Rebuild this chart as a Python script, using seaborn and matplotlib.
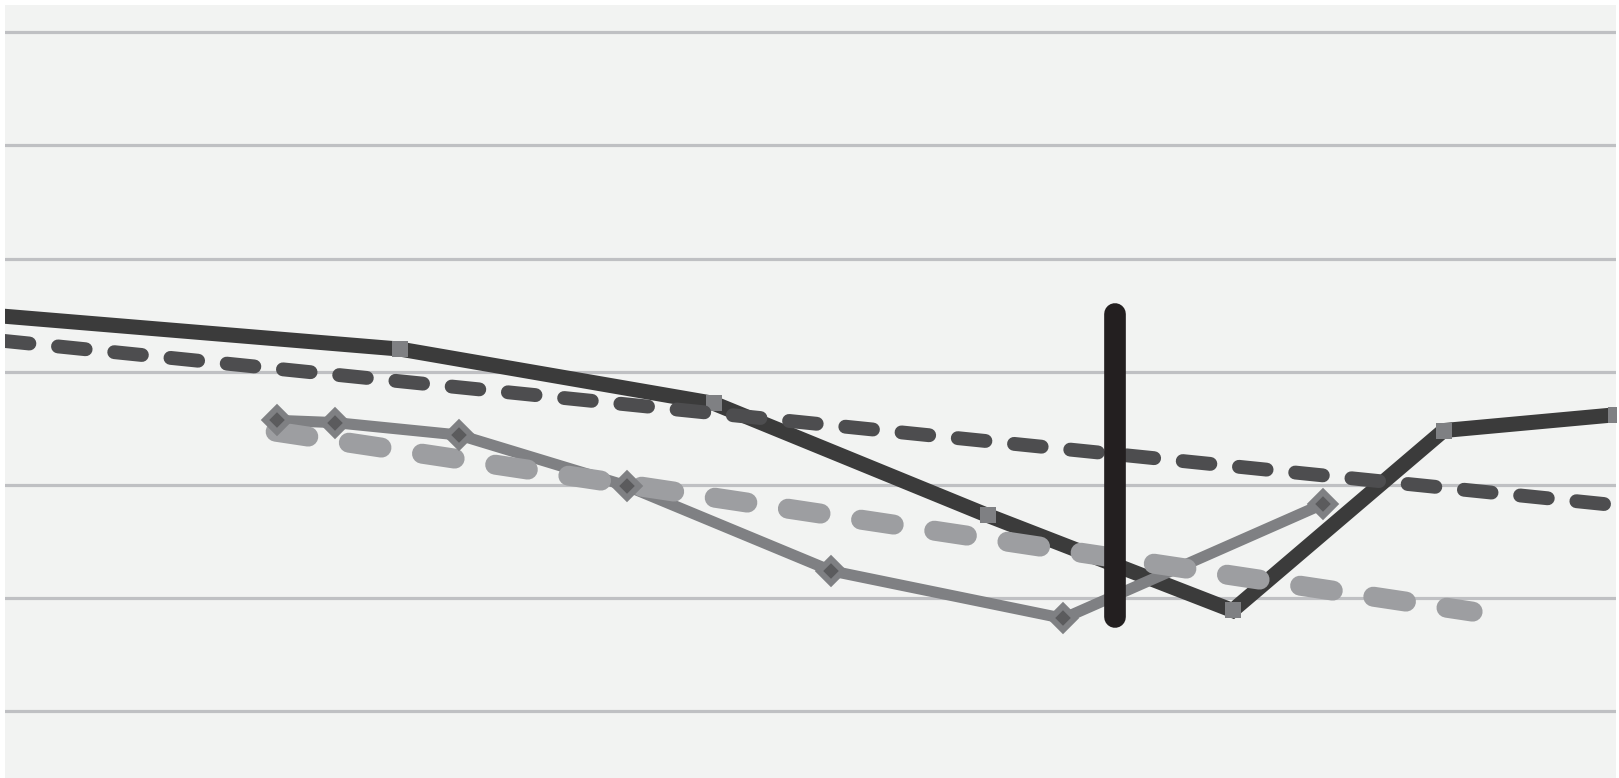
import numpy as np
import pandas as pd
import matplotlib
matplotlib.use("Agg")
import matplotlib.pyplot as plt
import seaborn as sns

# series values (x on a 0-100 scale, y in chart units)
solid_x = [-3, 24.5, 44.0, 61.0, 76.2, 89.3, 100]
solid_y = [35.25, 32.0, 27.2, 17.3, 8.9, 24.8, 26.2]

dashed_x = [-2, 100]
dashed_y = [33.0, 18.2]

diamond_x = [16.9, 20.5, 28.2, 38.6, 51.3, 65.7, 81.8]
diamond_y = [25.7, 25.5, 24.4, 19.9, 12.4, 8.2, 18.3]

light_x = [16.8, 91.1]
light_y = [24.7, 8.8]

marker_x = [68.9, 68.9]
marker_y = [35.1, 8.3]

grid_ticks = [0, 10, 20, 30, 40, 50, 60]

sns.set_style("white")

fig = plt.figure(figsize=(16.19, 7.78), dpi=100, facecolor="white")
ax = fig.add_axes([5 / 1619, 0, 1611 / 1619, 773 / 778])
ax.set_facecolor("#f2f3f2")


def draw(df, **style):
    # seaborn draws the line, then the style is pinned on the new Line2D
    n = len(ax.lines)
    sns.lineplot(data=df, x="x", y="y", ax=ax, estimator=None, sort=False)
    for ln in ax.lines[n:]:
        ln.set(**style)


# dark solid line with grey squares
draw(pd.DataFrame({"x": solid_x, "y": solid_y}),
     color="#3b3b3b", linewidth=10.8, marker="s", markersize=12,
     markerfacecolor="#7f8083", markeredgewidth=0,
     solid_joinstyle="miter", zorder=2)

# grey solid line (diamonds drawn later)
draw(pd.DataFrame({"x": diamond_x, "y": diamond_y}),
     color="#7f8083", linewidth=8, zorder=3)

# light dashed line
draw(pd.DataFrame({"x": light_x, "y": light_y}),
     color="#9d9ea1", linewidth=14.4, linestyle=(0, (1.65, 2.05)),
     dash_capstyle="round", zorder=4)

# diamonds sit on top of the light dashes
draw(pd.DataFrame({"x": diamond_x, "y": diamond_y}),
     linestyle="none", marker="D", markersize=12.5,
     markerfacecolor="#5b5b5d", markeredgecolor="#7f8083",
     markeredgewidth=4.3, zorder=5)

# dark dashed line
draw(pd.DataFrame({"x": dashed_x, "y": dashed_y}),
     color="#4d4d4f", linewidth=10.0, linestyle=(3.87, (2.0, 2.07)),
     dash_capstyle="round", zorder=6)

# black vertical marker
draw(pd.DataFrame({"x": marker_x, "y": marker_y}),
     color="#231f20", linewidth=15.6, solid_capstyle="round", zorder=7)

ax.set_xlim(0, 100)
ax.set_ylim(-5.9, 62.4)
ax.set_yticks(grid_ticks)
ax.set_xticks([])
ax.yaxis.grid(True, color="#bfc0c3", linewidth=2.3)
ax.set_axisbelow(True)
ax.tick_params(left=False, bottom=False, labelleft=False, labelbottom=False)
ax.set_xlabel("")
ax.set_ylabel("")
for s in ax.spines.values():
    s.set_visible(False)
if ax.get_legend() is not None:
    ax.get_legend().remove()

fig.savefig("out.png", dpi=100, facecolor="white")
